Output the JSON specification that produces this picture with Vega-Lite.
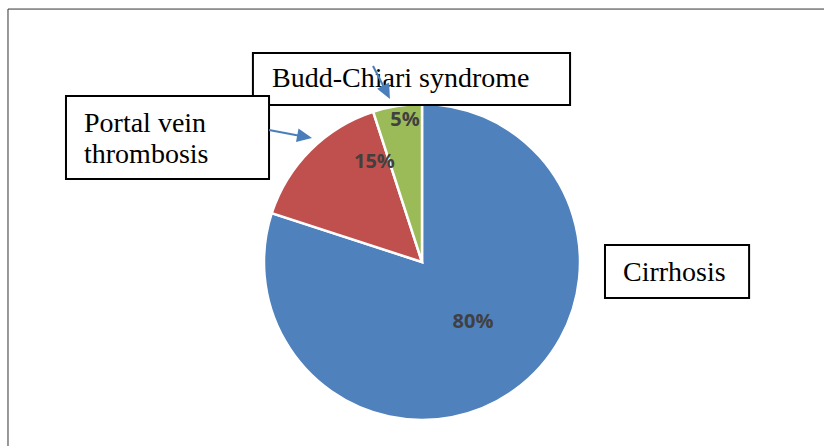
{
  "$schema": "https://vega.github.io/schema/vega-lite/v6.json",
  "autosize": {"type": "none"},
  "width": 804,
  "height": 368,
  "padding": {"left": 20, "top": 78, "right": 0, "bottom": 0},
  "background": "white",
  "config": {"view": {"stroke": null}},
  "datasets": {
    "slices": [
      {"cause": "Cirrhosis", "value": 80},
      {"cause": "Portal vein thrombosis", "value": 15},
      {"cause": "Budd-Chiari syndrome", "value": 5}
    ],
    "pct": [
      {"label": "80%", "x": 0.323, "y": -0.380},
      {"label": "15%", "x": -0.301, "y": 0.636},
      {"label": "5%", "x": -0.108, "y": 0.899}
    ],
    "boxes": [
      {"name": "Budd-Chiari syndrome", "x1": -1.070, "x2": 0.937, "y1": 1.323, "y2": 0.994},
      {"name": "Portal vein thrombosis", "x1": -2.253, "x2": -0.968, "y1": 1.051, "y2": 0.525},
      {"name": "Cirrhosis", "x1": 1.158, "x2": 2.070, "y1": 0.108, "y2": -0.228}
    ],
    "names": [
      {"text": "Budd-Chiari syndrome", "x": -0.949, "y": 1.108},
      {"text": "Portal vein", "x": -2.139, "y": 0.823},
      {"text": "thrombosis", "x": -2.139, "y": 0.627},
      {"text": "Cirrhosis", "x": 1.272, "y": -0.120}
    ],
    "arrows": [
      {"to": "Budd-Chiari syndrome", "x1": -0.310, "y1": 1.241, "x2": -0.226, "y2": 1.078, "tipx": -0.203, "tipy": 1.032, "dir": 153},
      {"to": "Portal vein thrombosis", "x1": -0.968, "y1": 0.835, "x2": -0.750, "y2": 0.795, "tipx": -0.696, "tipy": 0.785, "dir": 100.5}
    ],
    "frame": [
      {"x1": -2.620, "x2": 2.700, "y1": 1.601, "y2": 1.601},
      {"x1": -2.620, "x2": -2.620, "y1": 1.601, "y2": -1.300}
    ]
  },
  "layer": [
    {
      "data": {"name": "slices"},
      "mark": {"type": "arc", "outerRadius": 158, "stroke": "white", "strokeWidth": 2.5},
      "encoding": {
        "theta": {"field": "value", "type": "quantitative", "stack": true},
        "order": {"field": "value", "type": "quantitative", "sort": "descending"},
        "color": {
          "field": "cause",
          "type": "nominal",
          "scale": {
            "domain": ["Cirrhosis", "Portal vein thrombosis", "Budd-Chiari syndrome"],
            "range": ["#4F81BD", "#C0504D", "#9BBB59"]
          },
          "legend": null
        }
      }
    },
    {
      "data": {"name": "pct"},
      "mark": {"type": "text", "font": "Open Sans", "fontWeight": "bold", "fontSize": 20, "color": "#404040", "align": "center", "baseline": "middle"},
      "encoding": {
        "x": {"field": "x", "type": "quantitative", "scale": {"domain": [-2.544, 2.544], "nice": false, "zero": false}, "axis": null},
        "y": {"field": "y", "type": "quantitative", "scale": {"domain": [-1.1646, 1.1646], "nice": false, "zero": false}, "axis": null},
        "text": {"field": "label"}
      }
    },
    {
      "data": {"name": "boxes"},
      "mark": {"type": "rect", "fill": "white", "stroke": "black", "strokeWidth": 2},
      "encoding": {
        "x": {"field": "x1", "type": "quantitative"},
        "x2": {"field": "x2"},
        "y": {"field": "y1", "type": "quantitative"},
        "y2": {"field": "y2"}
      }
    },
    {
      "data": {"name": "names"},
      "mark": {"type": "text", "font": "Liberation Serif", "fontSize": 28, "color": "black", "align": "left", "baseline": "alphabetic"},
      "encoding": {
        "x": {"field": "x", "type": "quantitative"},
        "y": {"field": "y", "type": "quantitative"},
        "text": {"field": "text"}
      }
    },
    {
      "data": {"name": "arrows"},
      "mark": {"type": "rule", "color": "#4A7EBB", "strokeWidth": 2},
      "encoding": {
        "x": {"field": "x1", "type": "quantitative"},
        "x2": {"field": "x2"},
        "y": {"field": "y1", "type": "quantitative"},
        "y2": {"field": "y2"}
      }
    },
    {
      "data": {"name": "arrows"},
      "mark": {"type": "point", "shape": "M0,0L0.45,1L-0.45,1Z", "filled": true, "color": "#4A7EBB", "size": 900, "opacity": 1},
      "encoding": {
        "x": {"field": "tipx", "type": "quantitative"},
        "y": {"field": "tipy", "type": "quantitative"},
        "angle": {"field": "dir", "type": "quantitative", "scale": null}
      }
    },
    {
      "data": {"name": "frame"},
      "mark": {"type": "rule", "color": "#333333", "strokeWidth": 1},
      "encoding": {
        "x": {"field": "x1", "type": "quantitative"},
        "x2": {"field": "x2"},
        "y": {"field": "y1", "type": "quantitative"},
        "y2": {"field": "y2"}
      }
    }
  ]
}
